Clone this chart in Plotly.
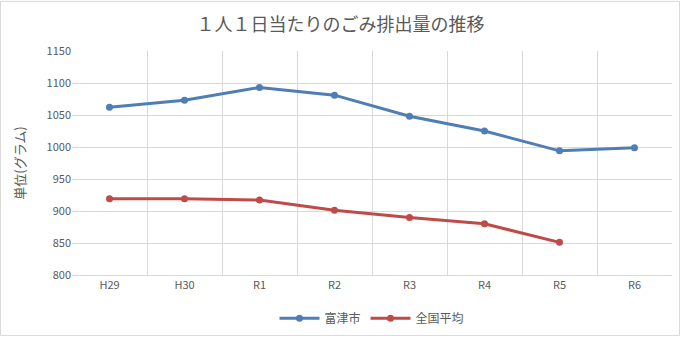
import plotly.graph_objects as go

categories = ["H29", "H30", "R1", "R2", "R3", "R4", "R5", "R6"]
futtsu = [1062, 1073, 1093, 1081, 1048, 1025, 994, 999]
national = [919, 919, 917, 901, 890, 880, 851, None]

W, H = 681, 342
ml, mr, mt, mb = 72, 9, 51, 63
pw, ph = W - ml - mr, H - mt - mb

font = "Noto Sans CJK JP, sans-serif"
fig = go.Figure()
fig.add_trace(go.Scatter(x=categories, y=futtsu, name="富津市", mode="lines+markers",
                         line=dict(color="#4F7DB5", width=3), marker=dict(size=7, color="#4F7DB5")))
fig.add_trace(go.Scatter(x=categories, y=national, name="全国平均", mode="lines+markers",
                         line=dict(color="#BE4B48", width=3), marker=dict(size=7, color="#BE4B48")))

fig.update_layout(
    width=W, height=H, margin=dict(l=ml, r=mr, t=mt, b=mb),
    paper_bgcolor="white", plot_bgcolor="white",
    font=dict(family=font, color="#595959", size=11),
    title=dict(text="１人１日当たりのごみ排出量の推移", x=0.5, xanchor="center", y=1 - 25 / H, yanchor="middle",
               font=dict(size=18, color="#595959", family=font)),
    xaxis=dict(type="category", tickson="boundaries", showgrid=True, gridcolor="#D9D9D9", gridwidth=1,
               ticks="", showline=True, linecolor="#D9D9D9", tickfont=dict(size=11, color="#595959"),
               range=[-0.5, 7.5], mirror=False),
    yaxis=dict(range=[800, 1150], dtick=50, showgrid=True, gridcolor="#D9D9D9", gridwidth=1,
               showline=False, zeroline=False, ticks="", tickfont=dict(size=11, color="#595959"),
               title=dict(text="単位(グラム)", font=dict(size=13, color="#595959"), standoff=18)),
    legend=dict(orientation="h", x=0.5, xanchor="center", y=-(323 - 279) / ph, yanchor="middle",
                font=dict(size=12, color="#595959"), itemwidth=40),
    showlegend=True,
)
# outer border
fig.add_shape(type="rect", xref="paper", yref="paper",
              x0=(0.5 - ml) / pw, x1=1 + (mr - 1.5) / pw,
              y0=-(mb - 1.5) / ph, y1=1 + (mt - 0.5) / ph,
              line=dict(color="#D9D9D9", width=1), layer="below")
fig.write_html("out.html")
